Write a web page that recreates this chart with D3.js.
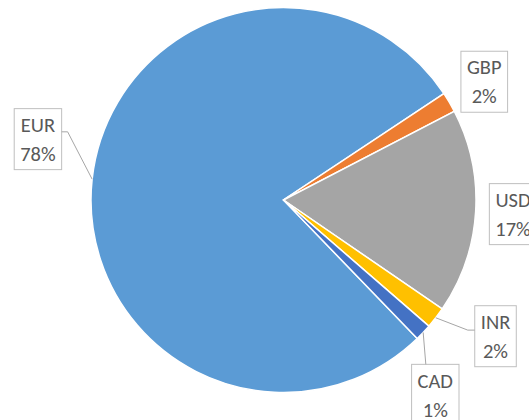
<!DOCTYPE html>
<html>
<head>
<meta charset="utf-8">
<script src="https://cdn.jsdelivr.net/npm/d3@7"></script>
<style>
  body { margin: 0; background: #fff; }
  svg { display: block; }
  .lbl { font-family: Calibri, Carlito, Lato, sans-serif; font-size: 20.5px; fill: #595959; }
</style>
</head>
<body>
<div id="chart"></div>
<script>
// currency share data
var currencies = ["EUR", "GBP", "USD", "INR", "CAD"];
var shares = [77.9, 1.7, 17.2, 1.8, 1.4];
var sliceColors = ["#5B9BD5", "#ED7D31", "#A5A5A5", "#FFC000", "#4472C4"];

var svgWidth = 529;
var svgHeight = 420;
var cx = 283.5, cy = 200, radius = 192.5;
var firstSliceAngle = 136 * Math.PI / 180;

// label placement: angle nudge (deg) from slice middle, distance from centre, leader on/off
var labelNudge = [7.7, 0, 0, -5, 8.6];
var labelDist = [253, 233, 230, 252, 247];
var hasLeader = [true, false, false, true, true];

var svg = d3.select("#chart")
  .append("svg")
  .attr("width", svgWidth)
  .attr("height", svgHeight);

var chartGroup = svg.append("g")
  .attr("transform", `translate(${cx}, ${cy})`);

var rows = currencies.map(function(c, i) {
  return { name: c, value: shares[i], color: sliceColors[i], idx: i };
});
var total = d3.sum(shares);

var pie = d3.pie()
  .sort(null)
  .value(d => d.value)
  .startAngle(firstSliceAngle)
  .endAngle(firstSliceAngle + 2 * Math.PI);

var arc = d3.arc().innerRadius(0).outerRadius(radius);
var arcs = pie(rows);

chartGroup.selectAll("path.slice")
  .data(arcs)
  .enter()
  .append("path")
  .attr("class", "slice")
  .attr("d", arc)
  .attr("fill", d => d.data.color)
  .attr("stroke", "#fff")
  .attr("stroke-width", 1.5);

function polar(angle, r) {
  return [Math.sin(angle) * r, -Math.cos(angle) * r];
}

var lineGap = 29;

arcs.forEach(function(d) {
  var i = d.data.idx;
  var mid = (d.startAngle + d.endAngle) / 2;
  var pos = polar(mid + labelNudge[i] * Math.PI / 180, labelDist[i]);

  var g = chartGroup.append("g");
  var rect = g.append("rect");
  var t1 = g.append("text").attr("class", "lbl")
    .attr("text-anchor", "middle")
    .attr("x", pos[0]).attr("y", pos[1] - lineGap / 2)
    .attr("dy", "0.35em")
    .text(d.data.name);
  var t2 = g.append("text").attr("class", "lbl")
    .attr("text-anchor", "middle")
    .attr("x", pos[0]).attr("y", pos[1] + lineGap / 2)
    .attr("dy", "0.35em")
    .text(Math.round(d.data.value / total * 100) + "%");

  var w = Math.max(t1.node().getBBox().width, t2.node().getBBox().width) + 12;
  var h = 61;
  var bx = pos[0] - w / 2, by = pos[1] - h / 2;
  rect.attr("x", bx).attr("y", by)
    .attr("width", w).attr("height", h)
    .attr("fill", "#fff")
    .attr("stroke", "#BFBFBF")
    .attr("stroke-width", 1);

  if (hasLeader[i]) {
    var p0 = polar(mid, radius);
    var pts;
    if (p0[0] < bx) {
      // box to the right
      pts = [p0, [bx - 7, by + h * 0.4], [bx, by + h * 0.4]];
    } else if (p0[0] > bx + w) {
      // box to the left
      pts = [p0, [bx + w + 6, by + h * 0.38], [bx + w, by + h * 0.38]];
    } else {
      // box below
      pts = [p0, [bx + w * 0.3, by]];
    }
    chartGroup.append("polyline")
      .attr("points", pts.map(p => p.join(",")).join(" "))
      .attr("fill", "none")
      .attr("stroke", "#A6A6A6")
      .attr("stroke-width", 1);
  }
});
</script>
</body>
</html>
